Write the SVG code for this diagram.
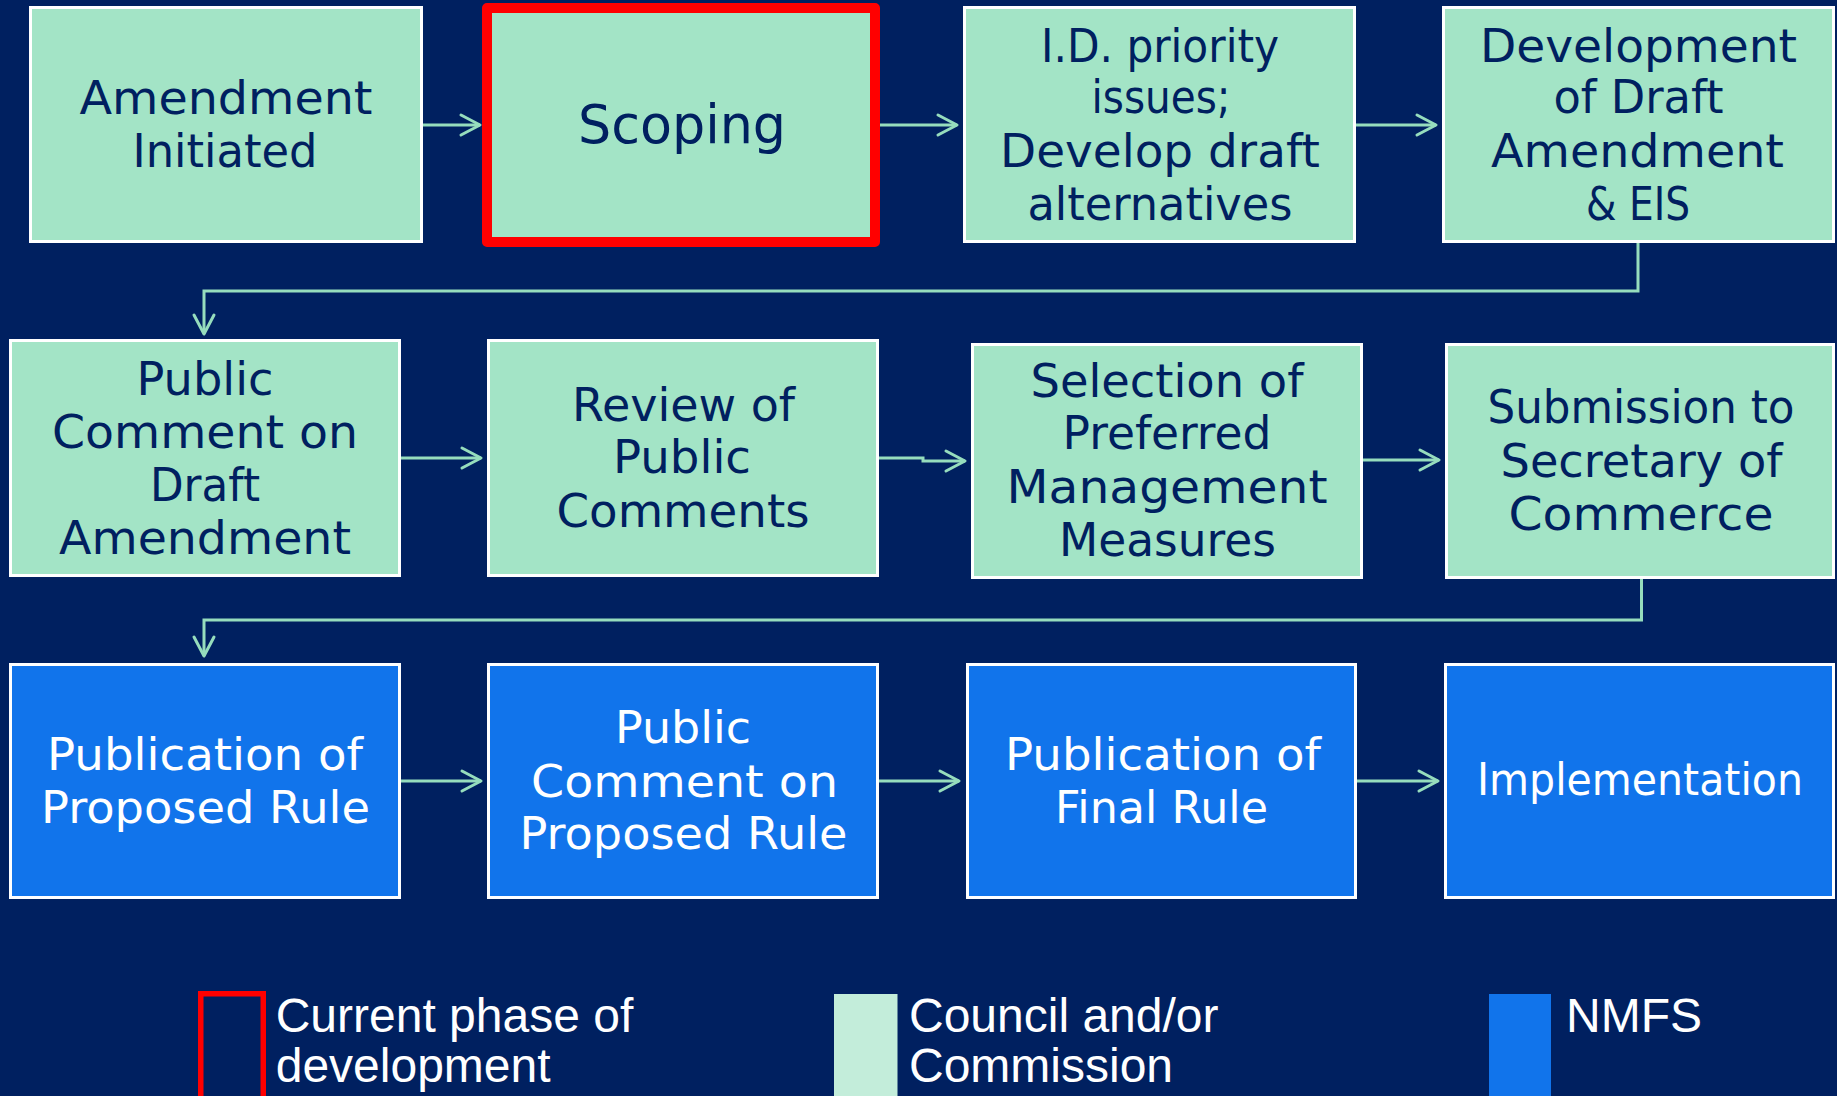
<svg xmlns="http://www.w3.org/2000/svg" width="1837" height="1096" viewBox="0 0 1837 1096">
  <style>
    .bg { fill: #002060; }
    .council rect { fill: #A3E4C6; stroke: #FFFFFF; stroke-width: 3; }
    .nmfs rect { fill: #1174EB; stroke: #FFFFFF; stroke-width: 3; }
    .current rect { fill: #A3E4C6; stroke: #FF0000; stroke-width: 10; stroke-linejoin: round; }
    .node text { font-family: "DejaVu Sans", "Liberation Sans", sans-serif; text-anchor: middle; }
    .council text, .current text { fill: #002060; font-size: 47px; }
    .nmfs text { fill: #FFFFFF; font-size: 44px; }
    .conn path { fill: none; stroke: #96DDBD; stroke-width: 3; marker-end: url(#arrow); }
    .legend text { font-family: "Liberation Sans", Arial, sans-serif; font-size: 48px; fill: #FFFFFF; }
  </style>
  <defs>
    <marker id="arrow" markerUnits="userSpaceOnUse" markerWidth="26" markerHeight="26" viewBox="0 0 26 26" refX="22" refY="13" orient="auto">
      <path d="M3,3 L22,13 L3,23" fill="none" stroke="#96DDBD" stroke-width="3" stroke-linecap="round" stroke-linejoin="round"/>
    </marker>
  </defs>

  <rect class="bg" x="0" y="0" width="1837" height="1096"/>

  <!-- connectors -->
  <g id="connectors" class="conn">
    <path d="M423,125 H480"/>
    <path d="M880,125 H957"/>
    <path d="M1356,125 H1436"/>
    <path d="M1638,243 V291 H204 V334"/>
    <path d="M401,458 H481"/>
    <path d="M879,458 H923 V461 H965"/>
    <path d="M1363,460 H1439"/>
    <path d="M1641.5,579 V620 H204 V656"/>
    <path d="M401,781 H481"/>
    <path d="M879,781 H959"/>
    <path d="M1357,781 H1438"/>
  </g>

  <!-- row 1 -->
  <g id="amendment-initiated" class="node council">
    <rect x="30.5" y="7.5" width="391" height="234"/>
    <text x="226" y="114" textLength="293" lengthAdjust="spacingAndGlyphs">Amendment</text>
    <text x="225" y="166.7" textLength="185" lengthAdjust="spacingAndGlyphs">Initiated</text>
  </g>
  <g id="scoping" class="node current">
    <rect x="487" y="8" width="388" height="234"/>
    <text x="682" y="143.3" style="font-size:54px" textLength="208" lengthAdjust="spacingAndGlyphs">Scoping</text>
  </g>
  <g id="priority-issues" class="node council">
    <rect x="964.5" y="7.5" width="390" height="234"/>
    <text x="1160" y="61.7" textLength="238" lengthAdjust="spacingAndGlyphs">I.D. priority</text>
    <text x="1161" y="113.3" textLength="139" lengthAdjust="spacingAndGlyphs">issues;</text>
    <text x="1160" y="166.7" textLength="320" lengthAdjust="spacingAndGlyphs">Develop draft</text>
    <text x="1160" y="220" textLength="265" lengthAdjust="spacingAndGlyphs">alternatives</text>
  </g>
  <g id="draft-amendment-eis" class="node council">
    <rect x="1443.5" y="7.5" width="390" height="234"/>
    <text x="1638.5" y="61.7" textLength="317" lengthAdjust="spacingAndGlyphs">Development</text>
    <text x="1638.5" y="113.3" textLength="170" lengthAdjust="spacingAndGlyphs">of Draft</text>
    <text x="1637.5" y="166.7" textLength="293" lengthAdjust="spacingAndGlyphs">Amendment</text>
    <text x="1638" y="220" textLength="104" lengthAdjust="spacingAndGlyphs">&amp; EIS</text>
  </g>

  <!-- row 2 -->
  <g id="public-comment-draft" class="node council">
    <rect x="10.5" y="340.5" width="389" height="235"/>
    <text x="205" y="395" textLength="137" lengthAdjust="spacingAndGlyphs">Public</text>
    <text x="205" y="448.3" textLength="306" lengthAdjust="spacingAndGlyphs">Comment on</text>
    <text x="205" y="500.7" textLength="110" lengthAdjust="spacingAndGlyphs">Draft</text>
    <text x="205" y="554" textLength="292" lengthAdjust="spacingAndGlyphs">Amendment</text>
  </g>
  <g id="review-comments" class="node council">
    <rect x="488.5" y="340.5" width="389" height="235"/>
    <text x="683.5" y="420.7" textLength="223" lengthAdjust="spacingAndGlyphs">Review of</text>
    <text x="682" y="473.3" textLength="138" lengthAdjust="spacingAndGlyphs">Public</text>
    <text x="683" y="526.7" textLength="253" lengthAdjust="spacingAndGlyphs">Comments</text>
  </g>
  <g id="preferred-measures" class="node council">
    <rect x="972.5" y="344.5" width="389" height="233"/>
    <text x="1167" y="396.7" textLength="273" lengthAdjust="spacingAndGlyphs">Selection of</text>
    <text x="1167" y="449.3" textLength="209" lengthAdjust="spacingAndGlyphs">Preferred</text>
    <text x="1167" y="502.7" textLength="321" lengthAdjust="spacingAndGlyphs">Management</text>
    <text x="1167.5" y="556" textLength="217" lengthAdjust="spacingAndGlyphs">Measures</text>
  </g>
  <g id="submission-secretary" class="node council">
    <rect x="1446.5" y="344.5" width="387" height="233"/>
    <text x="1641" y="423.3" textLength="307" lengthAdjust="spacingAndGlyphs">Submission to</text>
    <text x="1641.5" y="476.7" textLength="282" lengthAdjust="spacingAndGlyphs">Secretary of</text>
    <text x="1641" y="530" textLength="265" lengthAdjust="spacingAndGlyphs">Commerce</text>
  </g>

  <!-- row 3 -->
  <g id="proposed-rule" class="node nmfs">
    <rect x="10.5" y="664.5" width="389" height="233"/>
    <text x="205" y="770" textLength="316" lengthAdjust="spacingAndGlyphs">Publication of</text>
    <text x="205.5" y="822.7" textLength="329" lengthAdjust="spacingAndGlyphs">Proposed Rule</text>
  </g>
  <g id="public-comment-proposed" class="node nmfs">
    <rect x="488.5" y="664.5" width="389" height="233"/>
    <text x="683" y="742.7" textLength="136" lengthAdjust="spacingAndGlyphs">Public</text>
    <text x="684.5" y="796.7" textLength="307" lengthAdjust="spacingAndGlyphs">Comment on</text>
    <text x="683.5" y="849.3" textLength="328" lengthAdjust="spacingAndGlyphs">Proposed Rule</text>
  </g>
  <g id="final-rule" class="node nmfs">
    <rect x="967.5" y="664.5" width="388" height="233"/>
    <text x="1163" y="770" textLength="316" lengthAdjust="spacingAndGlyphs">Publication of</text>
    <text x="1161.5" y="822.7" textLength="213" lengthAdjust="spacingAndGlyphs">Final Rule</text>
  </g>
  <g id="implementation" class="node nmfs">
    <rect x="1445.5" y="664.5" width="388" height="233"/>
    <text x="1640" y="795" textLength="326" lengthAdjust="spacingAndGlyphs">Implementation</text>
  </g>

  <!-- legend -->
  <g id="legend" class="legend">
    <rect x="200.75" y="993.75" width="62.5" height="120" fill="none" stroke="#FF0000" stroke-width="5.5"/>
    <text x="275.7" y="1031.7">Current phase of</text>
    <text x="275.7" y="1081.7">development</text>
    <rect x="834" y="994" width="63.5" height="110" fill="#C3EDDA"/>
    <text x="909" y="1031.7">Council and/or</text>
    <text x="909" y="1081.7">Commission</text>
    <rect x="1489" y="994" width="62" height="110" fill="#1174EB"/>
    <text x="1566" y="1031.7">NMFS</text>
  </g>
</svg>
